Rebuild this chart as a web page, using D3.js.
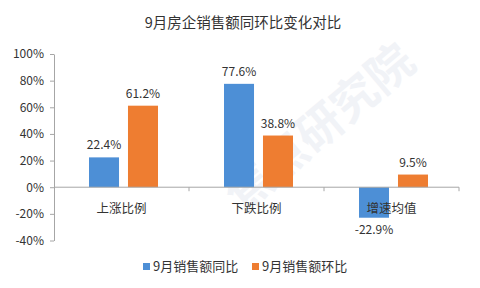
<!DOCTYPE html>
<html><head><meta charset="utf-8">
<script src="https://cdn.jsdelivr.net/npm/d3@7"></script>
<style>body{margin:0;background:#fff}svg{display:block}</style>
</head><body>
<script>
const categories = ["上涨比例", "下跌比例", "增速均值"];
const seriesNames = ["9月销售额同比", "9月销售额环比"];
const yoyValues = [22.4, 77.6, -22.9];
const momValues = [61.2, 38.8, 9.5];
const yTicks = [-40, -20, 0, 20, 40, 60, 80, 100];
const colors = ["#4d8fd6", "#ee7d31"];

const W = 480, H = 288;
const svg = d3.select("body").append("svg").attr("width", W).attr("height", H);
const font = "'Microsoft YaHei','Noto Sans CJK SC',sans-serif";

// watermark
svg.append("text").attr("x", 330).attr("y", 140)
  .attr("transform", "rotate(-40,330,140)")
  .attr("text-anchor", "middle").attr("font-family", font)
  .attr("font-size", 46).attr("font-weight", "bold")
  .attr("fill", "#f1f3f7").text("焦点研究院");

const x0 = d3.scaleBand().domain(categories).range([54, 459]);
const x1 = d3.scaleBand().domain(seriesNames).range([-32.5, 36.5]).paddingInner(0.23);
const y = d3.scaleLinear().domain([-40, 100]).range([240.5, 54]);

svg.append("text").attr("x", 243).attr("y", 28).attr("text-anchor", "middle")
  .attr("font-family", font).attr("font-size", 14.5).attr("fill", "#333")
  .text("9月房企销售额同环比变化对比");

// y axis
const yAxis = svg.append("g").attr("transform", "translate(54,0)")
  .call(d3.axisLeft(y).tickValues(yTicks).tickFormat(d => d + "%").tickSize(4).tickSizeOuter(0));
yAxis.select(".domain").attr("stroke", "#a6a6a6");
yAxis.selectAll(".tick line").attr("stroke", "#a6a6a6");
yAxis.selectAll("text").attr("font-family", font).attr("font-size", 12).attr("fill", "#333").attr("x", -10);

// bars
const data = categories.map((c, i) => ({ c, vals: [yoyValues[i], momValues[i]] }));
const g = svg.append("g");
data.forEach(d => {
  d.vals.forEach((v, j) => {
    const cx = x0(d.c) + x0.bandwidth() / 2 + x1(seriesNames[j]);
    g.append("rect").attr("x", cx).attr("width", x1.bandwidth())
      .attr("y", y(Math.max(0, v))).attr("height", Math.abs(y(v) - y(0)))
      .attr("fill", colors[j]);
    g.append("text").attr("x", cx + x1.bandwidth() / 2)
      .attr("y", v >= 0 ? y(v) - 8 : y(v) + 16)
      .attr("text-anchor", "middle").attr("font-family", font).attr("font-size", 12)
      .attr("fill", "#333").text(v.toFixed(1) + "%");
  });
});

// x axis
const xg = svg.append("g");
xg.append("line").attr("x1", 54).attr("x2", 459).attr("y1", y(0)).attr("y2", y(0)).attr("stroke", "#a6a6a6");
x0.domain().forEach((c, i) => {
  const bx = x0(c) + x0.bandwidth();
  xg.append("line").attr("x1", bx).attr("x2", bx).attr("y1", y(0)).attr("y2", y(0) + 4).attr("stroke", "#a6a6a6");
  xg.append("text").attr("x", x0(c) + x0.bandwidth() / 2).attr("y", y(0) + 26)
    .attr("text-anchor", "middle").attr("font-family", font).attr("font-size", 12.5)
    .attr("fill", "#333").text(c);
});

// legend
const legX = [143, 252];
seriesNames.forEach((s, j) => {
  svg.append("rect").attr("x", legX[j]).attr("y", 263).attr("width", 7).attr("height", 7).attr("fill", colors[j]);
  svg.append("text").attr("x", legX[j] + 10).attr("y", 271).attr("font-family", font)
    .attr("font-size", 13).attr("fill", "#333").text(s);
});
</script>
</body></html>
